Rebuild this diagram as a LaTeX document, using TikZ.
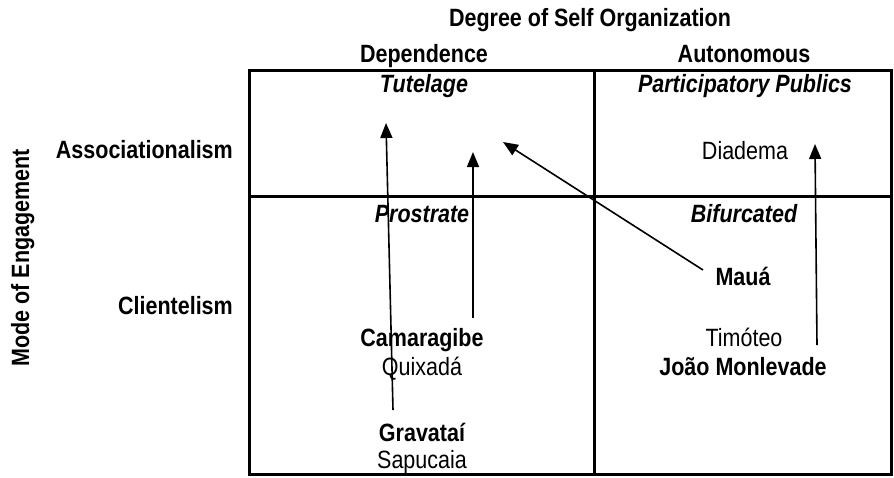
\documentclass[tikz,border=0pt]{standalone}
\usepackage{fontspec}
\setmainfont{Liberation Sans}[FakeStretch=0.86]
\usetikzlibrary{arrows.meta}

\tikzset{
  txt/.style={inner sep=0pt, text height=18pt, text depth=0pt, font=\fontsize{25}{29}\selectfont},
  btxt/.style={txt, font=\bfseries\fontsize{25}{29}\selectfont},
  celltxt/.style={txt, font=\bfseries\itshape\fontsize{25}{29}\selectfont},
  gridline/.style={line width=3pt},
  move/.style={-{Triangle[length=15pt,width=12pt]}, line width=1.6pt},
}

\begin{document}
\begin{tikzpicture}[x=1pt,y=-1pt]
\useasboundingbox (0,0) rectangle (894,477);
% the two by two table
\draw [gridline] (249,70) rectangle (891,474);
\draw [gridline] (249,196) -- (891,196);
\draw [gridline] (594,70) -- (594,474);
% axis labels
\node [btxt] (degree) at (590,17) {Degree of Self Organization};
\node [btxt] (dep) at (424,53) {Dependence};
\node [btxt] (auto) at (744,53) {Autonomous};
\node [btxt, rotate=90] (mode) at (20,258) {Mode of Engagement};
\node [btxt, anchor=east] (assoc) at (233,149) {Associationalism};
\node [btxt, anchor=east] (client) at (233,305) {Clientelism};
% cell names
\node [celltxt] (tutel) at (424,83) {Tutelage};
\node [celltxt] (partic) at (745,83) {Participatory Publics};
\node [celltxt] (prost) at (422,213) {Prostrate};
\node [celltxt] (bifur) at (744,213) {Bifurcated};
% cities
\node [txt] (diad) at (745,150) {Diadema};
\node [btxt] (maua) at (743,276) {Mauá};
\node [txt] (timot) at (744,337) {Timóteo};
\node [btxt] (joao) at (743,366) {João Monlevade};
\node [btxt] (cama) at (422,337) {Camaragibe};
\node [txt] (quix) at (422,366) {Quixadá};
\node [btxt] (grav) at (422,432) {Gravataí};
\node [txt] (sapu) at (422,459) {Sapucaia};
% moves over time
\coordinate (gravfoot) at (393,410);
\coordinate (gravtip) at (386,123);
\coordinate (camafoot) at (473,318);
\coordinate (camatip) at (473,152);
\coordinate (mauafoot) at (703,270);
\coordinate (mauatip) at (503,142);
\coordinate (joaofoot) at (817,345);
\coordinate (joaotip) at (815,144);
\draw [move] (gravfoot) -- (gravtip);
\draw [move] (camafoot) -- (camatip);
\draw [move] (mauafoot) -- (mauatip);
\draw [move] (joaofoot) -- (joaotip);
\end{tikzpicture}
\end{document}
